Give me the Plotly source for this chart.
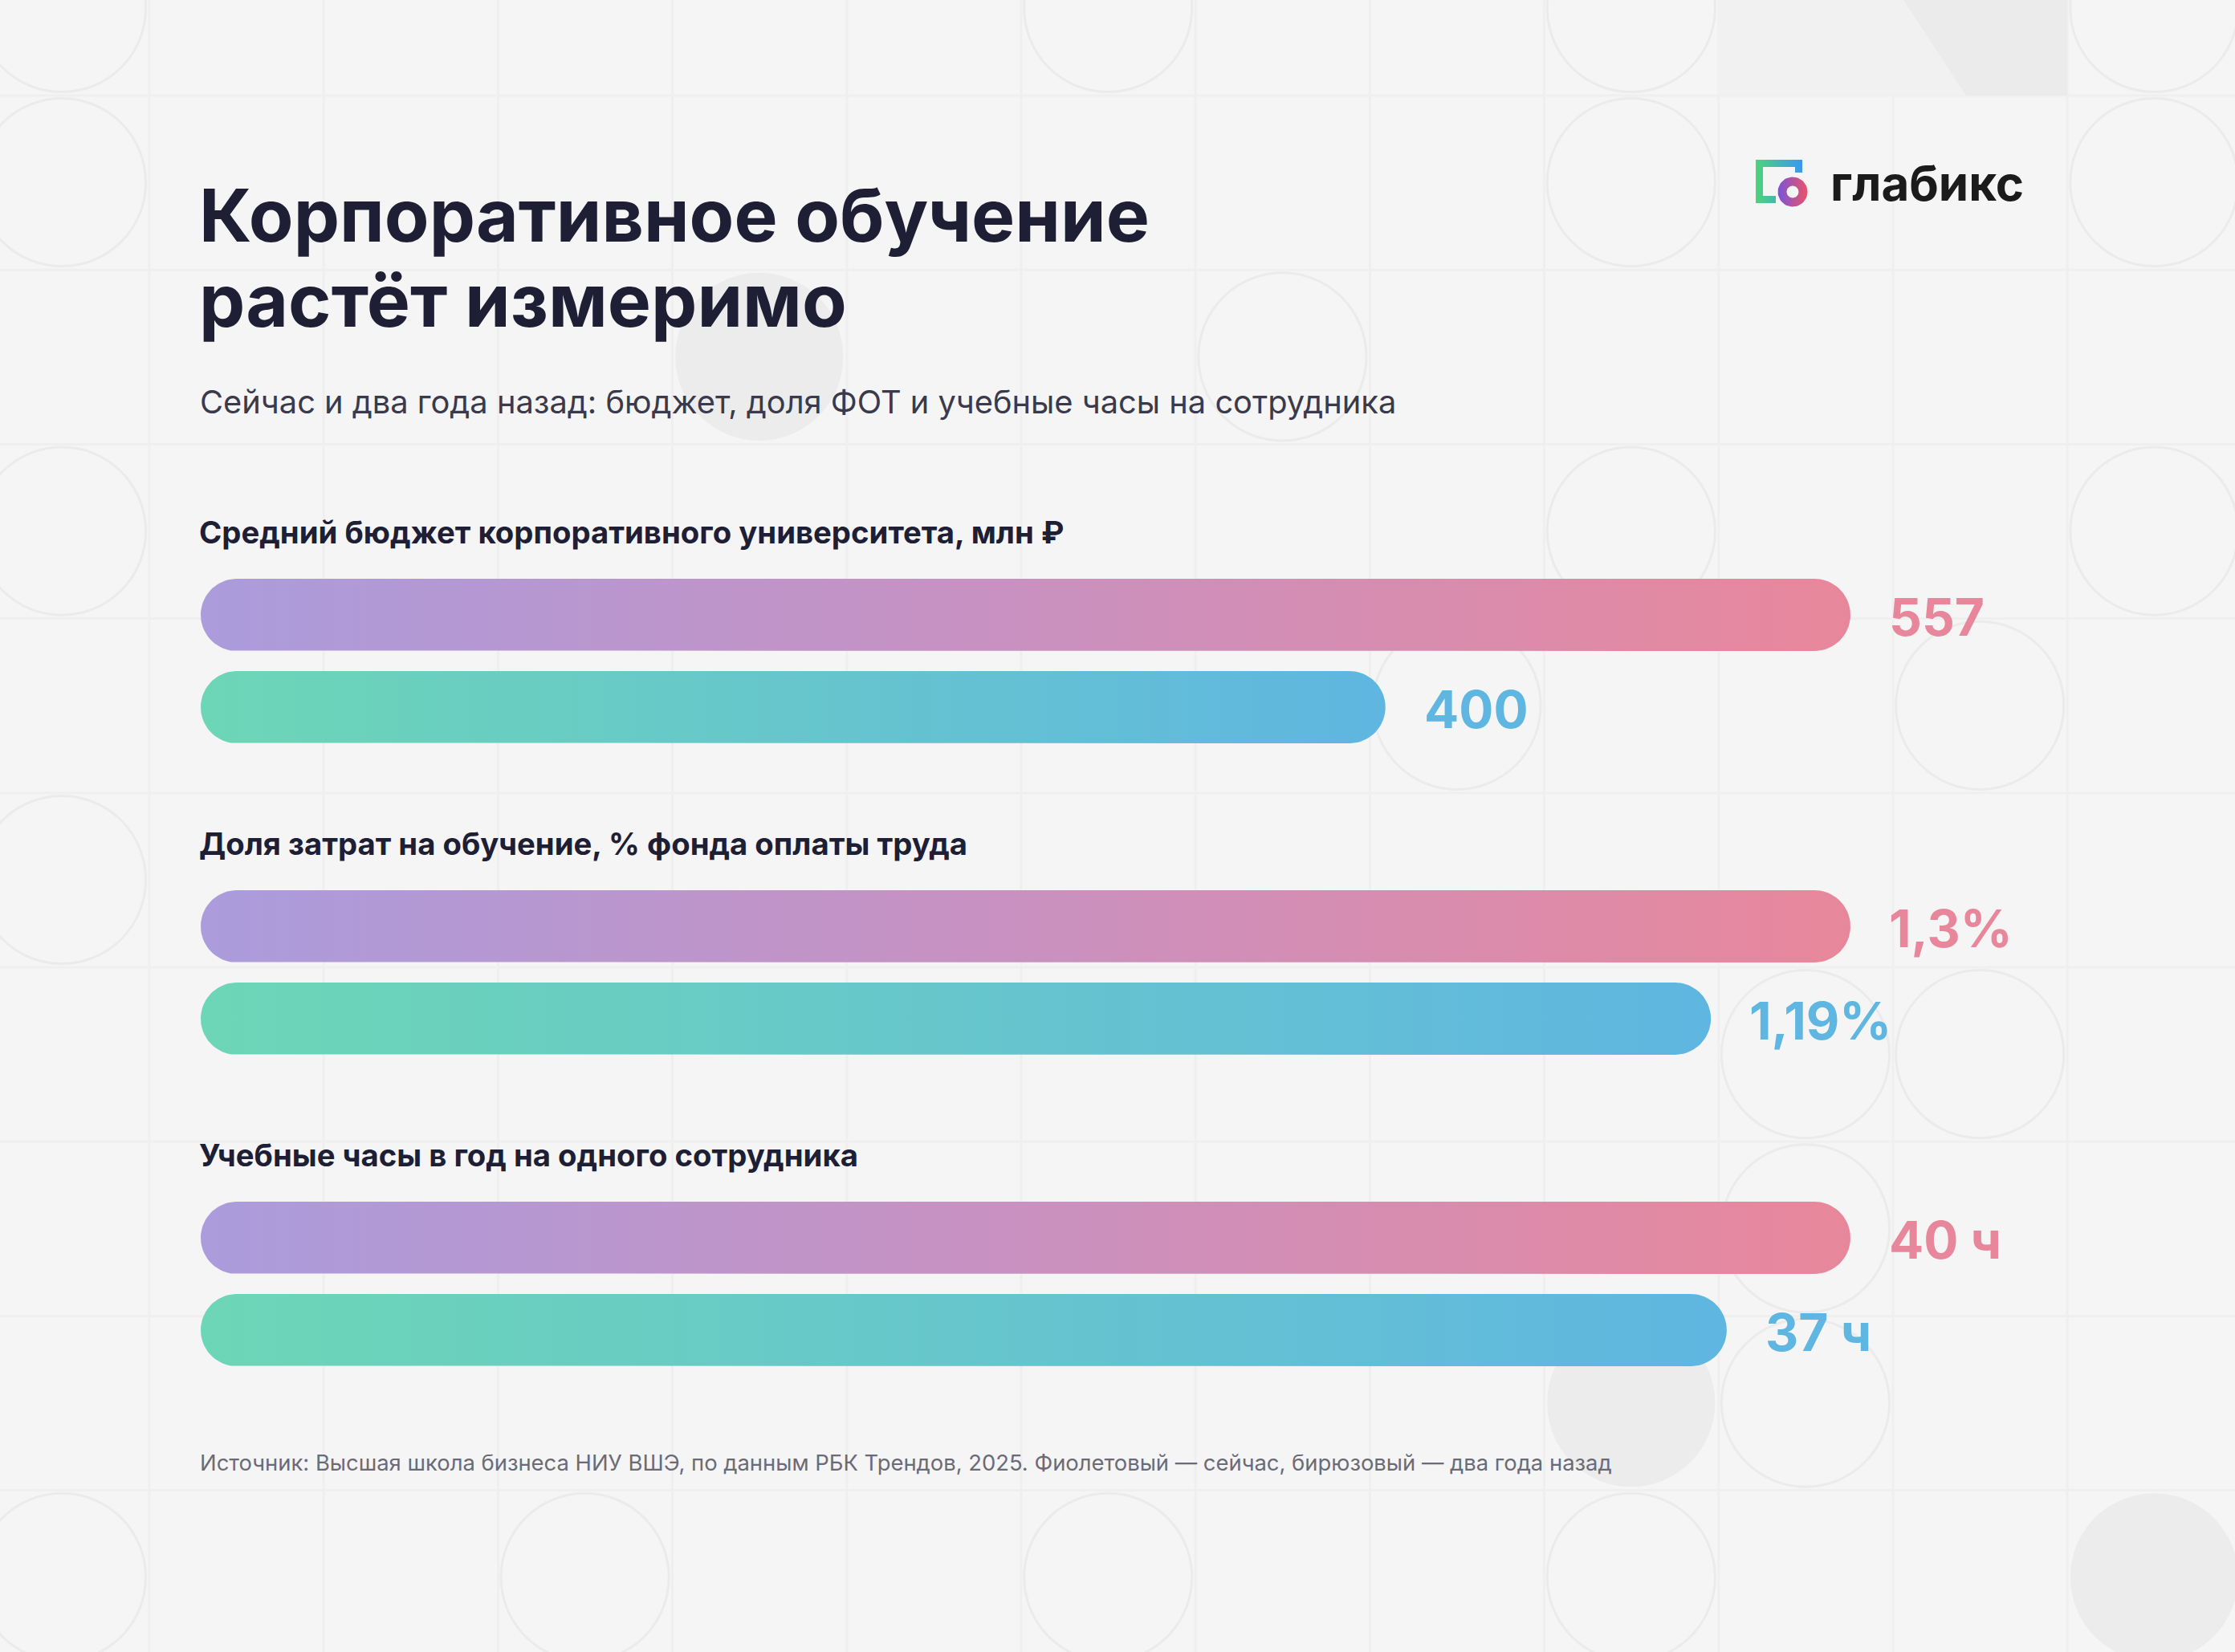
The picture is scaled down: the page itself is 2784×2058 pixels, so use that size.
import numpy as np
import plotly.graph_objects as go

W, H = 2784, 2058

# ---------------- data ----------------
title_lines = ["Корпоративное обучение", "растёт измеримо"]
subtitle = "Сейчас и два года назад: бюджет, доля ФОТ и учебные часы на сотрудника"
metrics = [
    "Средний бюджет корпоративного университета, млн ₽",
    "Доля затрат на обучение, % фонда оплаты труда",
    "Учебные часы в год на одного сотрудника",
]
now_values = [557, 1.3, 40]
before_values = [400, 1.19, 37]
now_labels = ["557", "1,3%", "40 ч"]
before_labels = ["400", "1,19%", "37 ч"]
source = ("Источник: Высшая школа бизнеса НИУ ВШЭ, по данным РБК Трендов, 2025. "
          "Фиолетовый — сейчас, бирюзовый — два года назад")
brand = "глабикс"

# ---------------- style ----------------
BG = "#f5f5f5"
INK = "#1e1e35"
FONT = "Inter, Roboto, sans-serif"
NOW_SCALE = [[0, "#ab9cdc"], [0.5, "#c991c0"], [1, "#e8879b"]]
BEFORE_SCALE = [[0, "#6dd6b6"], [0.5, "#66c6cc"], [1, "#5fb6e1"]]
NOW_TXT = "#e8879b"
BEFORE_TXT = "#5fb6e0"

BAR_X0, BAR_X1 = 250, 2305
BAR_H = 90
R = BAR_H / 2
GROUP_TOP = [721, 1109, 1497]
GAP = 25

fig = go.Figure()
shapes = []
annotations = []

# ---------------- background pattern ----------------
cell = 217.2
col_edges = [186 + cell * k for k in range(-1, 13)]
row_edges = [119 + cell * k for k in range(-1, 10)]
for xe in col_edges:
    shapes.append(dict(type="line", xref="x", yref="y", x0=xe, x1=xe, y0=0, y1=H,
                       line=dict(color="#efefef", width=3), layer="below"))
for ye in row_edges:
    shapes.append(dict(type="line", xref="x", yref="y", x0=0, x1=W, y0=ye, y1=ye,
                       line=dict(color="#efefef", width=3), layer="below"))

# top-right tinted tile
shapes.append(dict(type="rect", xref="x", yref="y", x0=2140, x1=2575, y0=0, y1=119,
                   fillcolor="#f1f1f1", line=dict(width=0), layer="below"))
shapes.append(dict(type="path", xref="x", yref="y",
                   path="M 2371 0 L 2575 0 L 2575 119 L 2449 119 Z",
                   fillcolor="#ebebeb", line=dict(width=0), layer="below"))

col_c = lambda i: 77 + cell * i
row_c = lambda j: 10 + cell * j
outline_circles = [(0, 0), (0, 1), (0, 3), (0, 5), (0, 9), (6, 0), (9, 0), (9, 1), (9, 3),
                   (12, 0), (12, 1), (12, 3), (11, 4), (8, 4), (7, 2), (10, 6), (10, 7),
                   (10, 8), (9, 9), (3, 9), (6, 9), (11, 6)]
filled_circles = [(4, 2), (9, 8), (12, 9)]
rc = cell / 2 - 4
for (i, j) in outline_circles:
    cx, cy = col_c(i), row_c(j)
    shapes.append(dict(type="circle", xref="x", yref="y", x0=cx - rc, x1=cx + rc,
                       y0=cy - rc, y1=cy + rc, line=dict(color="#ebebeb", width=3),
                       fillcolor="rgba(0,0,0,0)", layer="below"))
for (i, j) in filled_circles:
    cx, cy = col_c(i), row_c(j)
    shapes.append(dict(type="circle", xref="x", yref="y", x0=cx - rc, x1=cx + rc,
                       y0=cy - rc, y1=cy + rc, line=dict(width=0),
                       fillcolor="#ececec", layer="below"))

# ---------------- bars ----------------
def capsule(v, yc, rx):
    a1 = np.linspace(-np.pi / 2, np.pi / 2, 40)
    a2 = np.linspace(np.pi / 2, 3 * np.pi / 2, 40)
    xs = np.concatenate([v - rx + rx * np.cos(a1), rx + rx * np.cos(a2)])
    ys = np.concatenate([yc + R * np.sin(a1), yc + R * np.sin(a2)])
    xs = np.append(xs, xs[0])
    ys = np.append(ys, ys[0])
    return xs, ys

axes_layout = {}
for g in range(3):
    axname = f"x{g + 2}"
    vmax = max(now_values[g], before_values[g])
    k = vmax / (BAR_X1 - BAR_X0)          # data units per pixel
    axes_layout[f"xaxis{g + 2}"] = dict(range=[-BAR_X0 * k, (W - BAR_X0) * k],
                                        overlaying="x", anchor="y", visible=False,
                                        fixedrange=True)
    rx = R * k
    top = GROUP_TOP[g]
    yc_now = top + R
    yc_before = top + BAR_H + GAP + R
    for v, yc, scale, lab, col in [
        (now_values[g], yc_now, NOW_SCALE, now_labels[g], NOW_TXT),
        (before_values[g], yc_before, BEFORE_SCALE, before_labels[g], BEFORE_TXT),
    ]:
        xs, ys = capsule(v, yc, rx)
        fig.add_trace(go.Scatter(x=xs, y=ys, xaxis=axname, yaxis="y", mode="lines",
                                 fill="toself", line=dict(width=0, color="rgba(0,0,0,0)"),
                                 fillgradient=dict(type="horizontal", colorscale=scale),
                                 hoverinfo="skip", showlegend=False))
        annotations.append(dict(xref=axname, yref="y", x=v, y=yc + 2, xanchor="left",
                                yanchor="middle", xshift=46, text=lab, showarrow=False,
                                font=dict(family=FONT, size=64, color=col, weight=700)))
    # metric label
    annotations.append(dict(xref="x", yref="y", x=246, y=top - 58, xanchor="left",
                            yanchor="middle", text=metrics[g], showarrow=False,
                            font=dict(family=FONT, size=38.3, color=INK, weight=700)))

# ---------------- texts ----------------
annotations.append(dict(xref="x", yref="y", x=246, y=268, xanchor="left", yanchor="middle",
                        text=title_lines[0], showarrow=False,
                        font=dict(family=FONT, size=91, color=INK, weight=700)))
annotations.append(dict(xref="x", yref="y", x=246, y=374, xanchor="left", yanchor="middle",
                        text=title_lines[1], showarrow=False,
                        font=dict(family=FONT, size=91, color=INK, weight=700)))
annotations.append(dict(xref="x", yref="y", x=247, y=500, xanchor="left", yanchor="middle",
                        text=subtitle, showarrow=False,
                        font=dict(family=FONT, size=39.8, color="#3a3a4c")))
annotations.append(dict(xref="x", yref="y", x=247, y=1822, xanchor="left", yanchor="middle",
                        text=source, showarrow=False,
                        font=dict(family=FONT, size=27.4, color="#6b6b78")))

# ---------------- logo ----------------
sq_x = [2187, 2245, 2245, 2236, 2236, 2196, 2196, 2212, 2212, 2187, 2187]
sq_y = [199, 199, 215, 215, 208, 208, 244, 244, 253, 253, 199]
fig.add_trace(go.Scatter(x=sq_x, y=sq_y, mode="lines", fill="toself",
                         line=dict(width=0, color="rgba(0,0,0,0)"),
                         fillgradient=dict(type="horizontal",
                                           colorscale=[[0, "#4fd27a"], [1, "#3a98f2"]]),
                         hoverinfo="skip", showlegend=False))
t_out = np.linspace(0, 2 * np.pi, 60)
t_in = np.linspace(2 * np.pi, 0, 60)
ring_x = np.concatenate([2233 + 18.5 * np.cos(t_out), 2233 + 7.5 * np.cos(t_in), [2233 + 18.5]])
ring_y = np.concatenate([239 + 18.5 * np.sin(t_out), 239 + 7.5 * np.sin(t_in), [239]])
fig.add_trace(go.Scatter(x=ring_x, y=ring_y, mode="lines", fill="toself",
                         line=dict(width=0, color="rgba(0,0,0,0)"),
                         fillgradient=dict(type="horizontal",
                                           colorscale=[[0, "#7a55d8"], [1, "#ec5268"]]),
                         hoverinfo="skip", showlegend=False))
annotations.append(dict(xref="x", yref="y", x=2278, y=228, xanchor="left", yanchor="middle",
                        text=brand, showarrow=False,
                        font=dict(family=FONT, size=60, color="#1b1b1b", weight=700)))

fig.update_layout(
    width=W, height=H,
    margin=dict(l=0, r=0, t=0, b=0, pad=0),
    paper_bgcolor=BG, plot_bgcolor=BG,
    xaxis=dict(range=[0, W], visible=False, fixedrange=True),
    yaxis=dict(range=[H, 0], visible=False, fixedrange=True),
    shapes=shapes, annotations=annotations, showlegend=False,
    **axes_layout,
)

fig.write_html("out.html", config={"displayModeBar": False})
